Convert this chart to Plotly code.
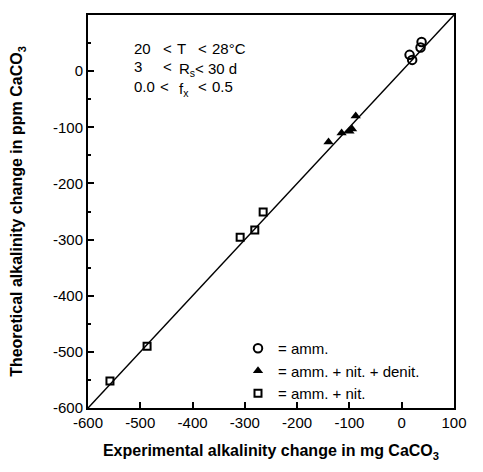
import plotly.graph_objects as go

# Data
amm_x = [38, 36, 15, 20]
amm_y = [52, 42, 29, 20]

den_x = [-140, -115, -100, -95, -88]
den_y = [-126, -110, -107, -103, -80]

nit_x = [-558, -487, -309, -281, -265]
nit_y = [-552, -490, -296, -283, -251]

line_x = [-600, 100]
line_y = [-600, 100]

x_ticks = [-600, -500, -400, -300, -200, -100, 0, 100]
y_ticks = [-600, -500, -400, -300, -200, -100, 0, 100]
x_tick_text = ["-600", "-500", "-400", "-300", "-200", "-100", "0", "100"]
y_tick_text = ["-600", "-500", "-400", "-300", "-200", "-100", "0", "100"]
y_minor = [-550, -450, -350, -250, -150, -50, 50]

FONT = "Liberation Sans, Arial, sans-serif"

# page body has an 8px margin; figure sized so page fits the 483x472 window
W, H = 467, 456
L, R, T, B = 80, 21, 7, 56
PW, PH = W - L - R, H - T - B


def px(page_x):
    return (page_x - 8 - L) / PW


def py(page_y):
    return (H - B + 8 - page_y) / PH


fig = go.Figure()
fig.add_trace(go.Scatter(x=line_x, y=line_y, mode="lines",
                         line=dict(color="black", width=1.5), showlegend=False,
                         hoverinfo="skip"))
fig.add_trace(go.Scatter(x=amm_x, y=amm_y, mode="markers", name="= amm.",
                         marker=dict(symbol="circle-open", size=8.5, color="black",
                                     line=dict(width=2, color="black"))))
fig.add_trace(go.Scatter(x=den_x, y=den_y, mode="markers", name="= amm. + nit. + denit.",
                         marker=dict(symbol="triangle-up", size=9, color="black")))
fig.add_trace(go.Scatter(x=nit_x, y=nit_y, mode="markers", name="= amm. + nit.",
                         marker=dict(symbol="square-open", size=7, color="black",
                                     line=dict(width=2, color="black"))))

axis_common = dict(
    showgrid=False, zeroline=False, showline=True, linecolor="black", linewidth=2,
    mirror=True, ticks="inside", ticklen=6, tickwidth=2, tickcolor="black",
    tickfont=dict(family=FONT, size=15, color="black"), automargin=False,
)

fig.update_xaxes(range=[-600, 100], tickvals=x_ticks, ticktext=x_tick_text, **axis_common,
                 title=dict(text="<b>Experimental alkalinity change in mg CaCO<sub>3</sub></b>",
                            font=dict(family=FONT, size=16, color="black"), standoff=15))
fig.update_yaxes(range=[-600, 100], tickvals=y_ticks, ticktext=y_tick_text, **axis_common,
                 minor=dict(tickvals=y_minor, ticks="inside", ticklen=3, tickwidth=2,
                            tickcolor="black"),
                 title=dict(text="<b>Theoretical alkalinity change in ppm CaCO<sub>3</sub></b>",
                            font=dict(family=FONT, size=16, color="black"), standoff=26))

txt_font = dict(family=FONT, size=15, color="black")
# (text, left page x, row center page y, has subscript)
tokens = [
    ("20", 132, 48, False), ("&lt;", 161, 48, False), ("T", 175, 48, False),
    ("&lt;", 196, 48, False), ("28°C", 210, 48, False),
    ("3", 132, 67, False), ("&lt;", 161, 67, False),
    ("R<sub>s</sub>&lt; 30 d", 177, 67, True),
    ("0.0", 132, 86, False), ("&lt;", 158, 86, False),
    ("f<sub>x</sub>", 177, 86, True), ("&lt;", 196, 86, False), ("0.5", 210, 86, False),
]
for t, x0, y0, sub in tokens:
    fig.add_annotation(text=t, xref="paper", yref="paper", x=px(x0), y=py(y0),
                       xanchor="left", yanchor="middle", showarrow=False, font=txt_font,
                       yshift=-3 if sub else 0)

fig.update_layout(
    width=W, height=H,
    margin=dict(l=L, r=R, t=T, b=B),
    plot_bgcolor="white", paper_bgcolor="white",
    font=dict(family=FONT, color="black"),
    legend=dict(x=px(238), y=py(332), xanchor="left", yanchor="top",
                bgcolor="rgba(0,0,0,0)", font=dict(family=FONT, size=15, color="black"),
                itemwidth=30, tracegroupgap=0),
)

fig.write_html("out.html")
